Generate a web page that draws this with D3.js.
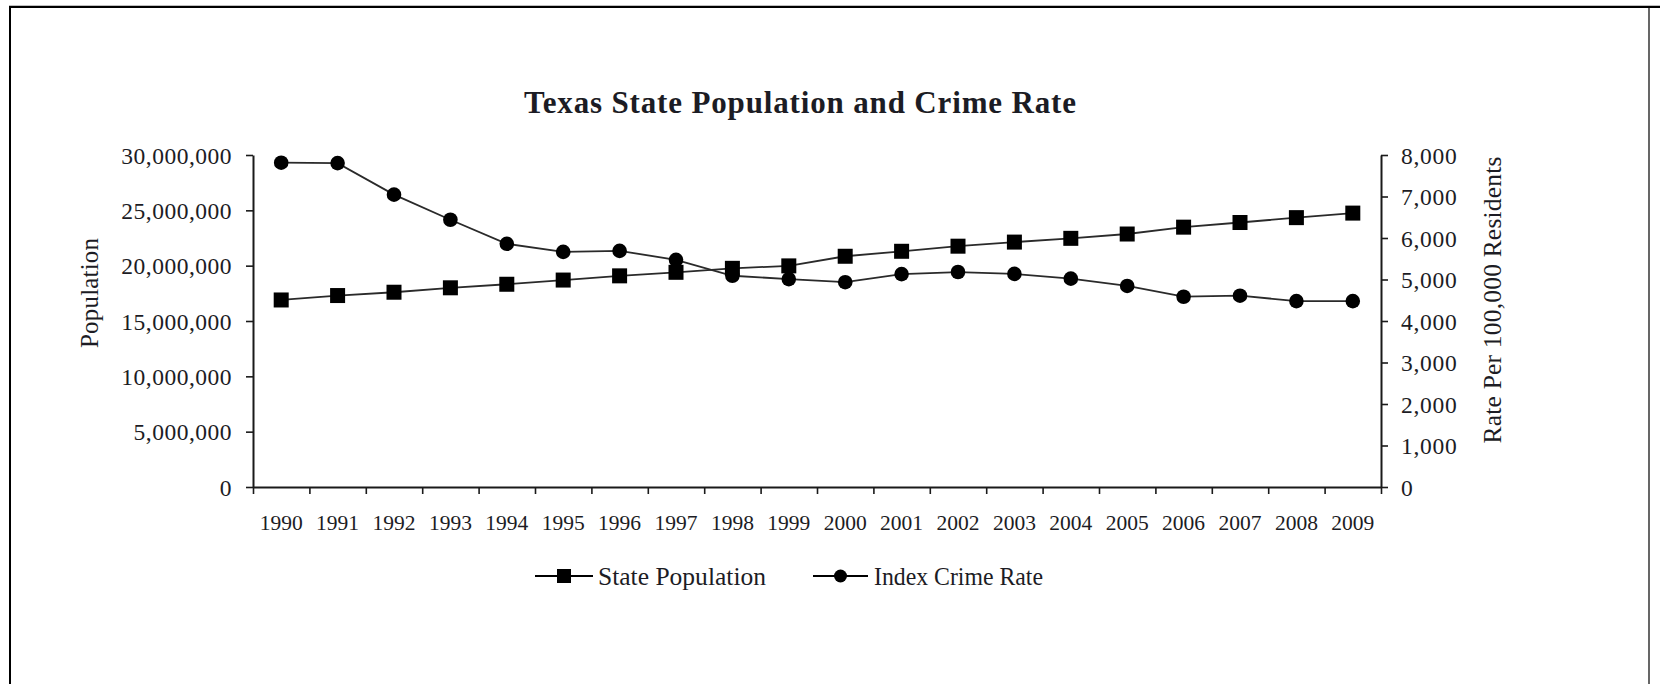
<!DOCTYPE html>
<html>
<head>
<meta charset="utf-8">
<script src="https://cdn.jsdelivr.net/npm/d3@7"></script>
<style>
  html, body { margin: 0; padding: 0; background: #fff; }
  svg { display: block; }
  text { font-family: "Liberation Serif", "Times New Roman", serif; fill: #1c1c24; }
</style>
</head>
<body>
<svg id="chart" width="1660" height="684"></svg>
<script>
// Texas yearly figures
const years = ["1990","1991","1992","1993","1994","1995","1996","1997","1998","1999",
               "2000","2001","2002","2003","2004","2005","2006","2007","2008","2009"];
const statePopulation = [16900000, 17300000, 17600000, 18000000, 18320000, 18700000, 19080000, 19400000, 19760000, 19980000,
                         20850000, 21300000, 21760000, 22130000, 22470000, 22860000, 23480000, 23900000, 24340000, 24750000];
const indexCrimeRate = [7815, 7805, 7045, 6440, 5860, 5665, 5690, 5475, 5090, 5010,
                        4935, 5130, 5180, 5135, 5020, 4845, 4585, 4610, 4480, 4480];
const populationTicks = [0, 5000000, 10000000, 15000000, 20000000, 25000000, 30000000];
const rateTicks = [0, 1000, 2000, 3000, 4000, 5000, 6000, 7000, 8000];

const svg = d3.select("#chart");
const W = 1660, H = 684;
const plotLeft = 253, plotRight = 1381, plotTop = 155, plotBottom = 487;

svg.append("rect").attr("width", W).attr("height", H).attr("fill", "#fff");

// frame around the chart area
svg.append("line").attr("x1", 9).attr("x2", W).attr("y1", 6.8).attr("y2", 6.8)
  .attr("stroke", "#000").attr("stroke-width", 2.2);
svg.append("line").attr("x1", 10).attr("x2", 10).attr("y1", 6).attr("y2", H)
  .attr("stroke", "#000").attr("stroke-width", 2);
svg.append("line").attr("x1", 1649).attr("x2", 1649).attr("y1", 6).attr("y2", H)
  .attr("stroke", "#000").attr("stroke-width", 1.2);

// scales
const x = d3.scaleBand().domain(years).range([plotLeft, plotRight]);
const xEdges = d3.scaleLinear().domain([0, years.length]).range([plotLeft, plotRight]);
const yPop = d3.scaleLinear().domain([0, 30000000]).range([plotBottom, plotTop]);
const yRate = d3.scaleLinear().domain([0, 8000]).range([plotBottom, plotTop]);
const fmt = d3.format(",");

function styleAxis(g) {
  g.select(".domain").attr("stroke", "#1a1a1a").attr("stroke-width", 2);
  g.selectAll(".tick line").attr("stroke", "#1a1a1a").attr("stroke-width", 1.6);
  g.selectAll("text").attr("fill", "#1c1c24");
}

// left axis: population
const gL = svg.append("g").attr("transform", `translate(${plotLeft},0)`)
  .call(d3.axisLeft(yPop).tickValues(populationTicks).tickFormat(fmt)
        .tickSize(7).tickSizeOuter(0).tickPadding(14));
gL.selectAll("text").attr("font-size", 23.5).attr("letter-spacing", 0.5)
  .attr("font-family", "Liberation Serif").attr("dy", "0.34em");
styleAxis(gL);

// right axis: rate
const gR = svg.append("g").attr("transform", `translate(${plotRight},0)`)
  .call(d3.axisRight(yRate).tickValues(rateTicks).tickFormat(fmt)
        .tickSize(7).tickSizeOuter(0).tickPadding(13));
gR.selectAll("text").attr("font-size", 23.5).attr("letter-spacing", 0.7)
  .attr("font-family", "Liberation Serif").attr("dy", "0.34em");
styleAxis(gR);

// bottom axis: ticks between years, labels centred on each year
const gB = svg.append("g").attr("transform", `translate(0,${plotBottom})`)
  .call(d3.axisBottom(xEdges).tickValues(d3.range(years.length + 1))
        .tickFormat("").tickSize(7).tickSizeOuter(0));
styleAxis(gB);
const gBL = svg.append("g").attr("transform", `translate(0,${plotBottom})`)
  .call(d3.axisBottom(x).tickSize(0).tickPadding(0));
gBL.select(".domain").remove();
gBL.selectAll("text").attr("font-size", 21.5).attr("font-family", "Liberation Serif")
  .attr("y", 43).attr("dy", 0).attr("fill", "#1c1c24");

// series lines and markers
const linePop = d3.line().x((d, i) => x(years[i]) + x.bandwidth() / 2).y(d => yPop(d));
const lineRate = d3.line().x((d, i) => x(years[i]) + x.bandwidth() / 2).y(d => yRate(d));

svg.append("path").datum(indexCrimeRate).attr("d", lineRate)
  .attr("fill", "none").attr("stroke", "#2a2a2a").attr("stroke-width", 1.8);
svg.append("path").datum(statePopulation).attr("d", linePop)
  .attr("fill", "none").attr("stroke", "#2a2a2a").attr("stroke-width", 1.8);

const sq = 15;
svg.append("g").selectAll("rect").data(statePopulation).join("rect")
  .attr("x", (d, i) => x(years[i]) + x.bandwidth() / 2 - sq / 2)
  .attr("y", d => yPop(d) - sq / 2)
  .attr("width", sq).attr("height", sq).attr("fill", "#000");
svg.append("g").selectAll("circle").data(indexCrimeRate).join("circle")
  .attr("cx", (d, i) => x(years[i]) + x.bandwidth() / 2)
  .attr("cy", d => yRate(d))
  .attr("r", 7.3).attr("fill", "#000");

// title and axis titles
svg.append("text").attr("x", 524).attr("y", 113)
  .attr("font-size", 31).attr("font-weight", "bold")
  .attr("textLength", 552).attr("lengthAdjust", "spacing")
  .text("Texas State Population and Crime Rate");

svg.append("text").attr("transform", "translate(98,293) rotate(-90)")
  .attr("text-anchor", "middle").attr("font-size", 25)
  .attr("textLength", 110).attr("lengthAdjust", "spacing")
  .text("Population");

svg.append("text").attr("transform", "translate(1501,300) rotate(-90)")
  .attr("text-anchor", "middle").attr("font-size", 25.5)
  .attr("textLength", 287).attr("lengthAdjust", "spacing")
  .text("Rate Per 100,000 Residents");

// legend
const legendY = 576;
const legend = [
  { label: "State Population", x0: 535, x1: 593, text: 598, len: 168, shape: "square" },
  { label: "Index Crime Rate", x0: 813, x1: 868, text: 874, len: 169, shape: "circle" }
];
const lg = svg.append("g");
legend.forEach(item => {
  lg.append("line").attr("x1", item.x0).attr("x2", item.x1)
    .attr("y1", legendY).attr("y2", legendY)
    .attr("stroke", "#000").attr("stroke-width", 2);
  const cx = (item.x0 + item.x1) / 2;
  if (item.shape === "square") {
    lg.append("rect").attr("x", cx - 7).attr("y", legendY - 7)
      .attr("width", 14).attr("height", 14).attr("fill", "#000");
  } else {
    lg.append("circle").attr("cx", cx).attr("cy", legendY).attr("r", 6.5).attr("fill", "#000");
  }
  lg.append("text").attr("x", item.text).attr("y", legendY + 8.5)
    .attr("font-size", 25).attr("textLength", item.len).attr("lengthAdjust", "spacingAndGlyphs")
    .text(item.label);
});
</script>
</body>
</html>
